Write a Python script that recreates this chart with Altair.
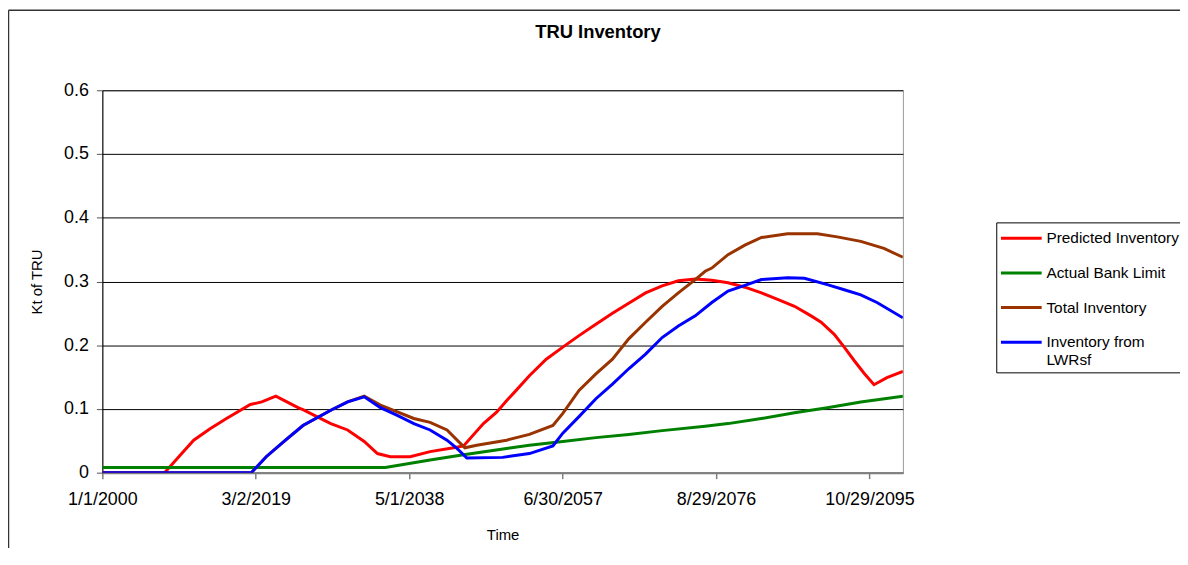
import altair as alt
import pandas as pd

FONT = "Liberation Sans"

series_names = ["Predicted Inventory", "Actual Bank Limit", "Total Inventory", "Inventory from LWRsf"]
series_colors = ["#FF0000", "#008000", "#993300", "#0000FF"]

x_start = "2000-01-01"
x_end = "2099-12-31"
tick_dates = ["2000-01-01", "2019-03-02", "2038-05-01", "2057-06-30", "2076-08-29", "2095-10-29"]
y_ticks = [0, 0.1, 0.2, 0.3, 0.4, 0.5, 0.6]

pred_dates = ["2000-01-01", "2007-10-12", "2009-07-20", "2011-05-30", "2013-06-15", "2015-07-05",
              "2018-06-26", "2019-12-01", "2021-09-02", "2022-10-01", "2024-06-10", "2025-01-22",
              "2028-07-13", "2030-08-21", "2032-09-17", "2034-05-12", "2035-12-20", "2038-06-17",
              "2040-12-08", "2043-11-17", "2045-02-13", "2047-08-08", "2049-04-01", "2050-06-28",
              "2051-04-27", "2053-05-05", "2055-06-13", "2057-07-08", "2059-07-17", "2061-08-26",
              "2063-09-20", "2065-10-01", "2067-11-09", "2069-12-05", "2071-12-13", "2074-01-22",
              "2076-02-17", "2078-02-25", "2080-04-04", "2082-05-01", "2084-05-08", "2086-06-17",
              "2088-07-12", "2089-10-12", "2091-06-03", "2092-09-01", "2093-11-27", "2095-02-24",
              "2096-05-22", "2098-01-01", "2099-12-31"]
pred_vals = [0, 0, 0.025, 0.051, 0.069, 0.085,
             0.107, 0.111, 0.120, 0.113, 0.102, 0.099,
             0.077, 0.067, 0.049, 0.030, 0.025, 0.025,
             0.033, 0.039, 0.042, 0.077, 0.095, 0.113,
             0.124, 0.152, 0.178, 0.197, 0.215, 0.233,
             0.250, 0.266, 0.282, 0.293, 0.301, 0.304,
             0.302, 0.298, 0.291, 0.282, 0.272, 0.261,
             0.246, 0.236, 0.217, 0.197, 0.176, 0.156,
             0.138, 0.149, 0.159]

bank_dates = ["2000-01-01", "2035-05-08", "2040-12-08", "2045-02-13", "2050-06-28", "2053-05-05",
              "2057-07-08", "2061-08-26", "2065-10-01", "2069-12-05", "2075-04-19", "2078-02-25",
              "2082-05-01", "2086-06-17", "2090-07-23", "2094-09-27", "2099-12-31"]
bank_vals = [0.008, 0.008, 0.020, 0.028, 0.038, 0.043,
             0.049, 0.055, 0.060, 0.066, 0.073, 0.077,
             0.085, 0.094, 0.102, 0.111, 0.120]

total_dates = ["2000-01-01", "2018-08-11", "2020-06-20", "2022-12-14", "2025-01-22", "2028-07-13",
               "2030-08-21", "2032-09-17", "2034-09-25", "2038-11-29", "2040-12-08", "2043-01-19",
               "2045-04-12", "2046-10-08", "2050-06-28", "2053-05-05", "2056-04-12", "2057-07-08",
               "2059-07-17", "2061-08-26", "2063-09-20", "2065-10-01", "2067-11-09", "2069-12-05",
               "2071-12-13", "2074-01-22", "2075-04-19", "2076-02-17", "2078-02-25", "2080-04-04",
               "2082-05-01", "2085-08-04", "2089-04-26", "2091-10-19", "2094-09-27", "2097-08-18",
               "2099-12-31"]
total_vals = [0, 0, 0.025, 0.052, 0.074, 0.098,
              0.111, 0.120, 0.106, 0.085, 0.079, 0.067,
              0.039, 0.043, 0.051, 0.060, 0.074, 0.093,
              0.129, 0.155, 0.178, 0.210, 0.236, 0.261,
              0.282, 0.303, 0.316, 0.321, 0.342, 0.357,
              0.369, 0.375, 0.375, 0.370, 0.363, 0.352,
              0.338]

lwr_dates = ["2000-01-01", "2018-08-11", "2020-06-20", "2022-12-14", "2025-01-22", "2028-07-13",
             "2030-08-21", "2032-09-17", "2034-09-25", "2036-11-03", "2038-11-29", "2040-12-08",
             "2043-01-19", "2044-04-16", "2045-07-12", "2050-01-01", "2053-05-05", "2056-04-12",
             "2057-07-08", "2059-07-17", "2061-08-26", "2063-09-20", "2065-10-01", "2067-11-09",
             "2069-12-05", "2071-12-13", "2074-01-22", "2076-02-17", "2078-02-25", "2080-04-04",
             "2082-05-01", "2085-08-04", "2087-09-13", "2090-07-23", "2092-09-01", "2094-09-27",
             "2096-10-05", "2099-12-31"]
lwr_vals = [0, 0, 0.025, 0.052, 0.074, 0.098,
            0.111, 0.119, 0.102, 0.090, 0.077, 0.067,
            0.051, 0.038, 0.023, 0.024, 0.030, 0.042,
            0.062, 0.088, 0.116, 0.139, 0.163, 0.186,
            0.212, 0.230, 0.246, 0.267, 0.285, 0.294,
            0.303, 0.306, 0.305, 0.295, 0.287, 0.279,
            0.267, 0.243]

rows = []
for name, ds, vs in [(series_names[0], pred_dates, pred_vals),
                     (series_names[1], bank_dates, bank_vals),
                     (series_names[2], total_dates, total_vals),
                     (series_names[3], lwr_dates, lwr_vals)]:
    for d, v in zip(ds, vs):
        rows.append({"date": d, "value": v, "series": name})
df = pd.DataFrame(rows)


def dt(s):
    y, m, d = map(int, s.split("-"))
    return alt.DateTime(year=y, month=m, date=d, utc=True)


lines = alt.Chart(df).mark_line(strokeWidth=3, clip=True).encode(
    x=alt.X(
        "date:T",
        scale=alt.Scale(type="utc", domain=[dt(x_start), dt(x_end)], nice=False),
        axis=alt.Axis(
            title="Time",
            values=[dt(s) for s in tick_dates],
            labelExpr="utcFormat(datum.value, '%-m/%-d/%Y')",
            grid=False,
            domainColor="#7f7f7f", domainWidth=2,
            tickColor="#7f7f7f", tickWidth=1.5, tickSize=6,
            labelFontSize=18, labelPadding=12, labelFlush=False, labelOverlap=False,
            titleFontSize=15, titlePadding=19,
        ),
    ),
    y=alt.Y(
        "value:Q",
        scale=alt.Scale(domain=[0, 0.6], nice=False),
        axis=alt.Axis(
            title="Kt of TRU",
            values=y_ticks,
            format=".1~f",
            grid=True, gridColor="#000000", gridWidth=1, gridOpacity=1,
            domainColor="#000000", domainWidth=1,
            tickColor="#555555", tickSize=6,
            labelFontSize=18, labelPadding=8,
            titleFontSize=15, titlePadding=19,
        ),
    ),
    color=alt.Color(
        "series:N",
        scale=alt.Scale(domain=series_names, range=series_colors),
        legend=alt.Legend(
            title=None, orient="none", legendX=900, legendY=133, direction="vertical",
            symbolType="M-1.1,0L2.9,0", symbolSize=420, symbolStrokeWidth=3,
            labelFontSize=15.5, labelFont=FONT, labelColor="#000000", labelOffset=22.5,
            labelLimit=400, padding=4, rowPadding=13.9,
            strokeColor="#000000", fillColor="#ffffff",
            labelExpr="datum.label == 'Inventory from LWRsf' ? ['Inventory from', 'LWRsf'] : datum.label",
        ),
    ),
)

frame_df = pd.DataFrame({"k": [0]})
frame_left = alt.Chart(frame_df).mark_rule(color="#333333", strokeWidth=1.5).encode(
    x=alt.value(-94.5), y=alt.value(-80.5), y2=alt.value(470)
)
frame_top = alt.Chart(frame_df).mark_rule(color="#333333", strokeWidth=1.5).encode(
    x=alt.value(-94.5), x2=alt.value(1090), y=alt.value(-80.5)
)

chart = alt.layer(frame_left, frame_top, lines).properties(
    width=806,
    height=385,
    padding={"left": 95, "top": 81, "right": 279, "bottom": 74},
    autosize=alt.AutoSizeParams(type="none"),
    title=alt.Title("TRU Inventory", fontSize=18.5, fontWeight="bold", font=FONT,
                    anchor="middle", frame="group", dx=96, offset=-32, color="#000000"),
    background="#ffffff",
).configure_view(
    stroke="#999999", strokeWidth=1
).configure_axis(
    labelFont=FONT, titleFont=FONT, labelColor="#000000", titleColor="#000000",
    titleFontWeight="normal"
)

chart.save("out.html", embed_options={"renderer": "svg", "actions": False})
